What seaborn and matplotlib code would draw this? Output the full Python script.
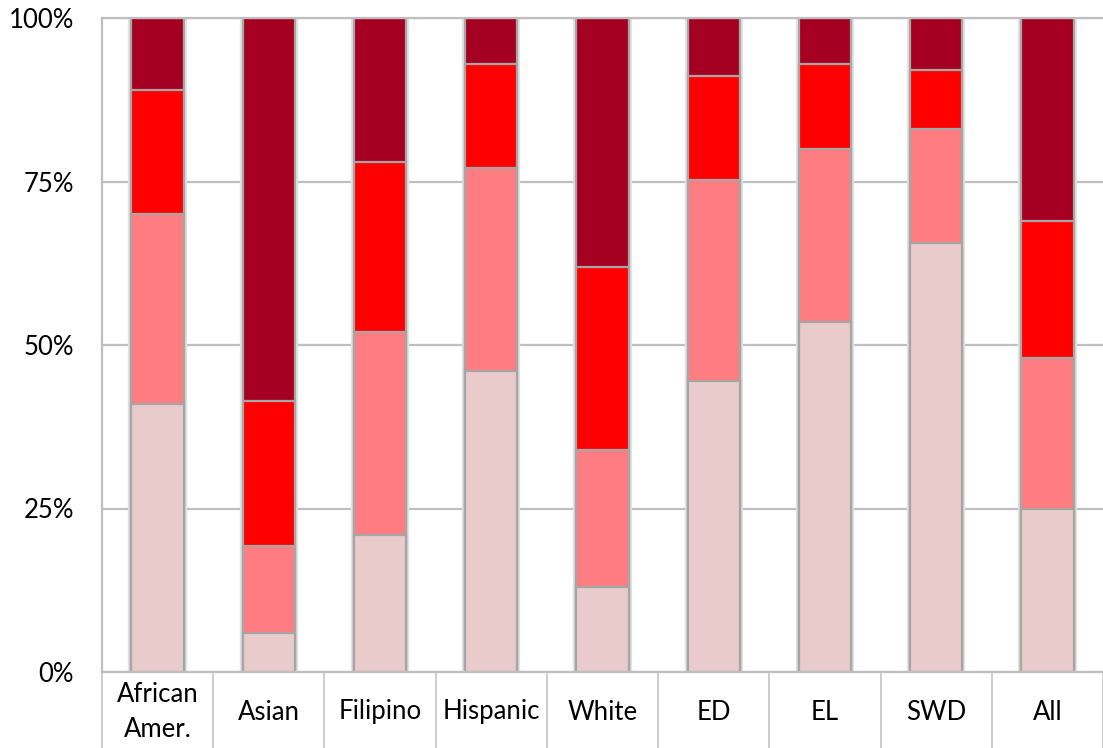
import matplotlib
matplotlib.use("Agg")
import matplotlib.pyplot as plt
import matplotlib.patheffects as pe
from matplotlib.transforms import blended_transform_factory
import pandas as pd
import seaborn as sns

# Student groups along the x axis
groups = ["African\nAmer.", "Asian", "Filipino", "Hispanic", "White",
          "ED", "EL", "SWD", "All"]

# Share of students in each performance level (percent), bottom to top
level_1 = [41.0, 6.0, 21.0, 46.0, 13.0, 44.5, 53.5, 65.6, 25.0]
level_2 = [29.0, 13.3, 31.0, 31.0, 21.0, 30.8, 26.5, 17.4, 23.0]
level_3 = [19.0, 22.2, 26.0, 16.0, 28.0, 15.9, 13.0, 9.0, 21.0]
level_4 = [11.0, 58.5, 22.0, 7.0, 38.0, 8.8, 7.0, 8.0, 31.0]

y_ticks = [0, 25, 50, 75, 100]
y_tick_labels = ["0%", "25%", "50%", "75%", "100%"]

level_colors = ["#E9CBCB", "#FF7C80", "#FF0000", "#A50021"]

df = pd.DataFrame({
    "group": groups,
    "level_1": level_1,
    "level_2": level_2,
    "level_3": level_3,
    "level_4": level_4,
})
levels = ["level_1", "level_2", "level_3", "level_4"]
for i, name in enumerate(levels):
    df["top_" + name] = df[levels[: i + 1]].sum(axis=1)

sns.set_theme(style="white")
plt.rcParams["font.family"] = ["Lato", "DejaVu Sans"]

W, H = 1103, 748
fig = plt.figure(figsize=(W / 100, H / 100), dpi=100)
ax = fig.add_axes([102 / W, (H - 672) / H, (W - 102) / W, (672 - 18) / H])

edge = "#A6A6A6"
grid = "#BFBFBF"

# Stacked bars: draw cumulative totals from the top layer down
for i in range(len(levels) - 1, -1, -1):
    name = levels[i]
    sns.barplot(data=df, x="group", y="top_" + name, color=level_colors[i],
                saturation=1, width=0.47, edgecolor=edge, linewidth=1.6,
                errorbar=None, ax=ax)
    if i == len(levels) - 1:
        for patch in ax.patches:
            patch.set_path_effects([
                pe.Stroke(linewidth=4.5, foreground="#E2E2E2"),
                pe.Normal(),
            ])

ax.set_xlim(-0.5, len(groups) - 0.5)
ax.set_ylim(0, 100)
ax.set_xlabel("")
ax.set_ylabel("")

ax.set_yticks(y_ticks)
ax.set_yticklabels(y_tick_labels)
ax.yaxis.grid(True, color=grid, linewidth=1.6)
ax.xaxis.grid(False)
ax.set_axisbelow(True)

for side in ["left", "bottom", "top"]:
    ax.spines[side].set_visible(True)
    ax.spines[side].set_color(grid)
    ax.spines[side].set_linewidth(1.6)
ax.spines["right"].set_visible(False)

ax.tick_params(axis="both", length=0, labelsize=18.5, labelcolor="#000000")
ax.tick_params(axis="y", pad=20)
ax.tick_params(axis="x", pad=28.8)
ax.set_xticks(range(len(groups)))
ax.set_xticklabels(groups)
for lbl in ax.get_xticklabels():
    lbl.set_verticalalignment("center")
    lbl.set_linespacing(1.5)

# Category cell separators below the axis
trans = blended_transform_factory(ax.transData, ax.transAxes)
for k in range(len(groups) + 1):
    ax.plot([k - 0.5, k - 0.5], [0, -0.2], transform=trans, color=grid,
            linewidth=1.1, clip_on=False, zorder=0)

fig.savefig("out.png", dpi=100)
